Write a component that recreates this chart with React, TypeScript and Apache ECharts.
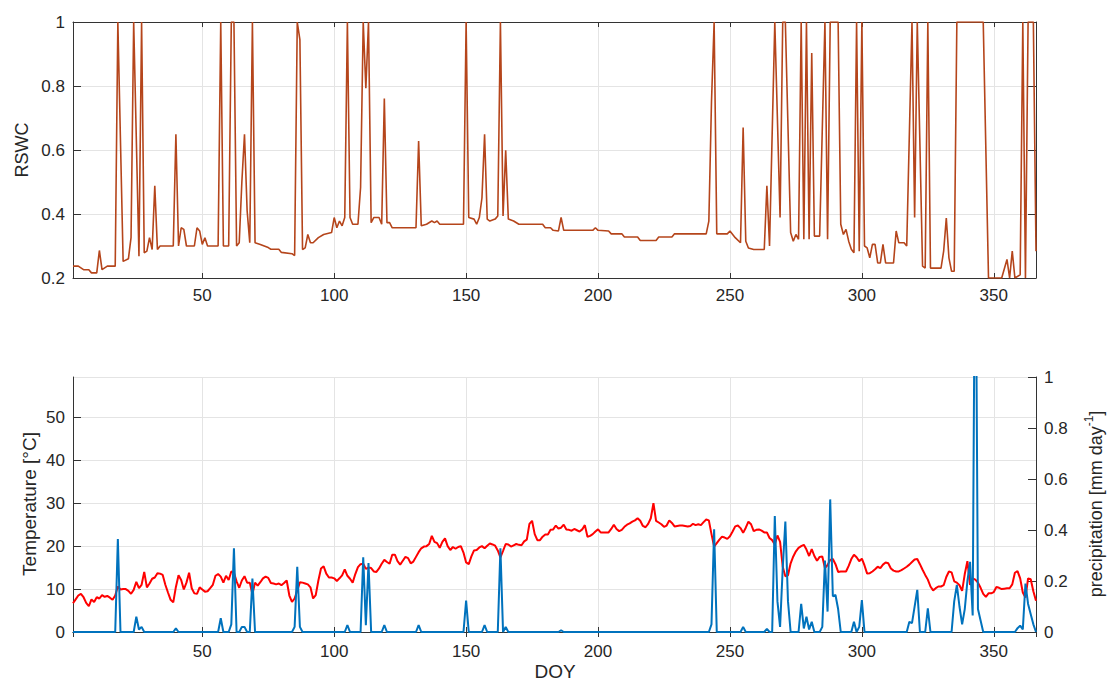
import React, { useEffect, useRef } from 'react';
import * as echarts from 'echarts';

// ---------- data ----------
const DAY_MIN = 1;
const DAY_MAX = 366;

// RSWC vertices: [DOY, relative soil water content]
const rswc: [number, number][] = [
  [1,0.237],[3,0.237],[5,0.226],[7,0.226],[8,0.216],[10,0.216],[11,0.286],[12,0.226],[14,0.237],[17,0.237],
  [18,1],[20,0.252],[22,0.26],[23,0.326],[24,1],[26,0.268],[27,1],[28,0.279],[29,0.284],[30,0.326],
  [31,0.289],[32,0.488],[33,0.289],[34,0.3],[39,0.3],[40,0.649],[41,0.3],[42,0.357],[43,0.352],[44,0.3],
  [47,0.3],[48,0.357],[49,0.347],[50,0.305],[51,0.326],[52,0.3],[56,0.3],[57,1],[58,0.3],[60,0.3],
  [61,1],[62,1],[63,0.3],[64,0.31],[65,0.5],[66,0.649],[67,0.41],[68,0.31],[69,1],[70,0.31],
  [72,0.305],[75,0.295],[76,0.29],[79,0.29],[80,0.28],[84,0.276],[85,0.27],[86,1],[87,0.945],[88,0.289],
  [89,0.294],[90,0.336],[91,0.31],[92,0.31],[94,0.326],[96,0.336],[99,0.342],[100,0.389],[101,0.357],[102,0.378],
  [103,0.363],[104,0.389],[105,1],[106,0.389],[107,0.368],[109,0.368],[110,0.483],[111,1],[112,0.793],[113,1],
  [114,0.373],[115,0.389],[117,0.389],[118,0.368],[119,0.761],[120,0.373],[121,0.373],[122,0.357],[131,0.357],[132,0.628],
  [133,0.363],[135,0.368],[137,0.378],[138,0.373],[139,0.378],[140,0.368],[149,0.368],[150,1],[151,0.389],[153,0.384],
  [154,0.368],[155,0.389],[156,0.45],[157,0.649],[158,0.384],[159,0.378],[161,0.384],[162,0.394],[163,1],[164,0.394],
  [165,0.599],[166,0.384],[168,0.378],[170,0.368],[179,0.368],[180,0.357],[182,0.357],[183,0.349],[185,0.347],[186,0.389],
  [187,0.349],[198,0.349],[199,0.357],[200,0.349],[204,0.347],[205,0.338],[209,0.338],[210,0.328],[215,0.328],[216,0.317],
  [222,0.317],[223,0.328],[228,0.328],[229,0.338],[241,0.338],[242,0.378],[243,0.75],[244,1],[245,0.338],[249,0.338],
  [250,0.347],[252,0.326],[254,0.31],[255,0.67],[256,0.315],[257,0.294],[259,0.289],[263,0.289],[264,0.488],[265,0.3],
  [267,1],[269,0.389],[270,1],[271,1],[273,0.342],[274,0.315],[275,0.336],[276,0.321],[277,1],[278,0.321],
  [279,1],[280,0.321],[281,0.903],[282,0.331],[284,0.331],[286,1],[287,0.321],[288,1],[291,1],[292,0.368],
  [293,0.336],[294,0.352],[295,0.315],[296,0.29],[297,0.279],[298,1],[299,0.284],[300,1],[301,0.3],[302,0.294],
  [303,0.263],[304,0.305],[305,0.305],[306,0.247],[307,0.247],[308,0.305],[309,0.247],[312,0.247],[313,0.347],[314,0.31],
  [316,0.31],[317,0.3],[319,1],[320,0.389],[321,1],[323,0.237],[324,0.231],[325,1],[326,0.231],[330,0.231],
  [331,0.284],[332,0.387],[333,0.263],[334,0.221],[335,0.221],[336,1],[346,1],[348,0.2],[353,0.2],[355,0.258],
  [356,0.2],[357,0.284],[358,0.2],[360,0.21],[361,1],[362,0.2],[363,1],[365,1],[366,0.284],
];

// Daily air temperature [°C], DOY 1..366
const temperature: number[] = [
  6.7,7.6,8.5,8.9,8.1,6.8,6.0,7.6,7.0,8.1, 7.8,8.6,8.2,8.4,8.0,7.5,8.5,10.6,9.9,10.0,
  10.0,9.6,8.9,9.8,11.7,10.2,11.0,14.0,10.4,11.3, 12.4,12.7,13.7,13.6,13.3,11.0,9.2,7.5,6.9,10.5,
  13.2,12.1,9.9,11.5,13.8,10.2,9.0,8.9,10.4,9.9, 9.4,9.5,10.2,11.0,13.1,13.5,12.9,11.5,13.1,12.1,
  14.1,13.8,11.8,10.3,12.0,13.0,11.5,11.5,8.8,11.5, 10.8,11.6,12.5,12.9,12.6,11.4,11.3,11.1,11.3,10.9,
  11.4,12.0,8.5,7.0,7.8,9.7,11.6,11.5,11.3,11.1, 10.4,7.8,8.6,12.0,14.8,15.3,13.6,12.7,12.7,12.5,
  11.9,12.5,13.2,14.6,13.1,12.4,11.5,13.5,15.1,15.8, 15.9,14.7,15.0,14.9,14.1,14.0,14.8,15.9,16.8,16.3,
  15.9,18.0,18.0,16.5,15.7,16.6,17.5,17.2,16.0,16.4, 17.5,18.6,19.5,19.9,20.0,20.5,22.4,21.0,20.7,19.6,
  21.0,21.8,20.0,19.1,19.8,19.4,19.8,20.0,18.5,16.2, 15.8,17.6,19.0,19.1,19.7,20.0,19.5,20.1,20.6,20.4,
  20.1,19.0,17.4,18.9,20.5,20.4,19.9,20.2,20.5,20.3, 20.2,21.1,21.5,25.2,25.9,22.8,21.4,21.4,22.2,22.7,
  22.7,23.8,23.9,24.8,24.1,24.3,25.0,23.9,23.8,23.6, 24.0,23.7,23.4,23.9,24.9,22.2,22.4,22.8,23.4,23.9,
  23.2,23.2,23.2,23.2,24.0,25.0,24.0,23.5,23.8,24.5, 25.0,25.3,25.7,26.0,26.5,25.9,24.7,24.4,25.2,26.5,
  30.0,25.9,25.5,25.1,24.5,24.8,26.0,25.4,24.6,24.7, 24.8,24.8,24.7,24.6,24.7,25.2,24.9,25.1,24.9,25.6,
  26.2,26.0,22.8,19.9,20.7,21.5,22.2,22.0,21.7,22.3, 23.4,24.6,24.8,24.2,23.1,24.3,25.7,25.1,23.5,23.8,
  23.9,23.6,23.2,23.2,21.9,21.4,20.4,22.5,21.0,15.2, 13.0,13.2,16.0,17.6,18.8,19.6,20.0,20.3,19.2,17.7,
  19.3,17.7,16.6,17.5,17.6,14.9,15.6,16.8,17.0,15.8, 14.0,14.1,14.1,14.1,15.4,17.0,18.0,17.4,16.5,17.1,
  15.5,13.6,13.7,14.1,14.6,15.2,14.9,15.7,16.2,16.0, 14.8,14.3,14.1,14.1,14.4,14.8,15.2,15.7,16.3,16.9,
  17.0,15.8,14.5,13.3,12.2,10.6,9.7,10.2,10.6,10.6, 10.9,12.8,14.1,13.9,11.8,11.5,10.9,9.6,13.5,16.5,
  11.0,12.5,12.2,11.5,10.3,8.9,8.2,9.0,9.0,9.3, 10.5,10.3,10.0,10.1,10.2,10.2,11.1,13.8,14.2,12.5,
  9.2,8.0,12.5,12.3,9.5,7.3,
];

// Precipitation vertices: [DOY, mm/day]
const precipitation: [number, number][] = [
  [1,0],[17,0],[18,0.365],[19,0],[24,0],[25,0.06],[26,0.01],[27,0.02],[28,0],[39,0],[40,0.014],[41,0],
  [56,0],[57,0.054],[58,0],[60,0],[61,0.03],[62,0.328],[63,0],[64,0],[65,0.02],[66,0.02],[67,0],[68,0],[69,0.21],[70,0],
  [84,0],[85,0.02],[86,0.256],[87,0.02],[88,0],[104,0],[105,0.027],[106,0],[110,0],[111,0.293],[112,0.027],[113,0.27],[114,0],
  [118,0],[119,0.027],[120,0],[131,0],[132,0.027],[133,0],[149,0],[150,0.123],[151,0],[156,0],[157,0.027],[158,0],
  [162,0],[163,0.328],[164,0],[165,0.02],[166,0],[185,0],[186,0.007],[187,0],[242,0],[243,0.03],[244,0.403],[245,0],
  [254,0],[255,0.02],[256,0],[263,0],[264,0.012],[265,0],[266,0],[267,0.455],[268,0.12],[269,0.02],[270,0.25],[271,0.433],
  [272,0.12],[273,0],[276,0],[277,0.11],[278,0.014],[279,0.06],[280,0.01],[281,0.04],[282,0],[284,0],[285,0.02],[286,0.28],
  [287,0.08],[288,0.52],[289,0.14],[290,0.145],[291,0.09],[292,0],[296,0],[297,0.04],[298,0],[299,0.02],[300,0.125],[301,0],
  [317,0],[318,0.04],[319,0.035],[321,0.165],[322,0],[324,0],[325,0.093],[326,0],[334,0],[335,0.12],[336,0.185],[337,0.1],
  [338,0.03],[339,0.09],[340,0.2],[341,0.275],[342,0.065],[343,1.8],[344,0.09],[345,0.045],[346,0],[358,0],[359,0.015],
  [360,0.025],[361,0.01],[362,0.19],[363,0.11],[364,0.07],[365,0.03],[366,0],
];

const RSWC_RANGE = [0.2, 1];
const TEMP_RANGE = [0, 59.4];
const PRECIP_RANGE = [0, 1];

// ---------- styling ----------
const FONT = "'Liberation Sans', Arial, Helvetica, sans-serif";
const AXIS_COLOR = '#333333';
const TEXT_COLOR = '#262626';
const GRID_COLOR = '#e4e4e4';

export default function App() {
  const ref = useRef<HTMLDivElement>(null);

  useEffect(() => {
    if (!ref.current) return;
    const chart = echarts.init(ref.current, null, { renderer: 'svg' });

    const tempData = temperature.map((v, i) => [DAY_MIN + i, v]);

    const lineAxis = { show: true, lineStyle: { color: AXIS_COLOR, width: 1 } };
    const labelStyle = { color: TEXT_COLOR, fontSize: 17, fontFamily: FONT };

    const xMain = (gridIndex: number, margin: number) => ({
      type: 'value',
      gridIndex,
      position: 'bottom',
      min: DAY_MIN,
      max: DAY_MAX,
      splitNumber: 7,
      axisLine: lineAxis,
      axisTick: { show: true, inside: true, length: 5, lineStyle: { color: AXIS_COLOR } },
      axisLabel: { ...labelStyle, margin, showMinLabel: false, showMaxLabel: false },
      splitLine: { show: true, lineStyle: { color: GRID_COLOR, width: 1 } },
    });
    const xMirror = (gridIndex: number) => ({
      type: 'value',
      gridIndex,
      position: 'top',
      min: DAY_MIN,
      max: DAY_MAX,
      splitNumber: 7,
      axisLine: lineAxis,
      axisTick: { show: true, inside: true, length: 5, lineStyle: { color: AXIS_COLOR } },
      axisLabel: { show: false },
      splitLine: { show: false },
    });

    const option: any = {
      animation: false,
      backgroundColor: '#ffffff',
      textStyle: { fontFamily: FONT },
      grid: [
        { left: 73, top: 22, width: 963, height: 256, containLabel: false },
        { left: 73, top: 377, width: 963, height: 255, containLabel: false },
      ],
      xAxis: [xMain(0, 9), xMirror(0), xMain(1, 11), xMirror(1)],
      yAxis: [
        {
          type: 'value', gridIndex: 0, position: 'left',
          min: RSWC_RANGE[0], max: RSWC_RANGE[1], interval: 0.2,
          axisLine: lineAxis,
          axisTick: { show: true, inside: true, length: 8, lineStyle: { color: AXIS_COLOR } },
          axisLabel: { ...labelStyle, margin: 8 },
          splitLine: { show: true, lineStyle: { color: GRID_COLOR, width: 1 } },
        },
        {
          type: 'value', gridIndex: 0, position: 'right',
          min: RSWC_RANGE[0], max: RSWC_RANGE[1], interval: 0.2,
          axisLine: lineAxis,
          axisTick: { show: true, inside: true, length: 8, lineStyle: { color: AXIS_COLOR } },
          axisLabel: { show: false },
          splitLine: { show: false },
        },
        {
          type: 'value', gridIndex: 1, position: 'left',
          min: TEMP_RANGE[0], max: TEMP_RANGE[1], interval: 10,
          axisLine: lineAxis,
          axisTick: { show: true, inside: true, length: 8, lineStyle: { color: AXIS_COLOR } },
          axisLabel: { ...labelStyle, margin: 8, showMaxLabel: false },
          splitLine: { show: true, lineStyle: { color: GRID_COLOR, width: 1 } },
        },
        {
          type: 'value', gridIndex: 1, position: 'right',
          min: PRECIP_RANGE[0], max: PRECIP_RANGE[1], interval: 0.2,
          axisLine: lineAxis,
          axisTick: { show: true, inside: true, length: 8, lineStyle: { color: AXIS_COLOR } },
          axisLabel: { ...labelStyle, margin: 8 },
          splitLine: { show: false },
        },
      ],
      series: [
        {
          name: 'RSWC', type: 'line', xAxisIndex: 0, yAxisIndex: 0,
          data: rswc, showSymbol: false, symbol: 'none', clip: true,
          lineStyle: { color: '#b5451b', width: 1.6 },
        },
        {
          name: 'Temperature', type: 'line', xAxisIndex: 2, yAxisIndex: 2,
          data: tempData, showSymbol: false, symbol: 'none', clip: true,
          lineStyle: { color: '#ff0000', width: 2 },
        },
        {
          name: 'Precipitation', type: 'line', xAxisIndex: 2, yAxisIndex: 3,
          data: precipitation, showSymbol: false, symbol: 'none', clip: true,
          lineStyle: { color: '#0072bd', width: 2 },
        },
      ],
      graphic: [
        {
          type: 'text', x: 22, y: 150, rotation: Math.PI / 2,
          style: { text: 'RSWC', fontSize: 18, fontFamily: FONT, fill: TEXT_COLOR, align: 'center', verticalAlign: 'middle' },
        },
        {
          type: 'text', x: 29, y: 504, rotation: Math.PI / 2,
          style: { text: 'Temperature [°C]', fontSize: 19, fontFamily: FONT, fill: TEXT_COLOR, align: 'center', verticalAlign: 'middle' },
        },
        {
          type: 'text', x: 1094, y: 504, rotation: Math.PI / 2,
          style: {
            text: '{a|precipitation [mm day}{s|-1}{a|]}',
            fontFamily: FONT, fill: TEXT_COLOR, align: 'center', verticalAlign: 'middle',
            rich: {
              a: { fontSize: 18, fontFamily: FONT, fill: TEXT_COLOR, lineHeight: 22, verticalAlign: 'bottom' },
              s: { fontSize: 12, fontFamily: FONT, fill: TEXT_COLOR, lineHeight: 22, verticalAlign: 'top' },
            },
          },
        },
        {
          type: 'text', x: 555, y: 671,
          style: { text: 'DOY', fontSize: 19, fontFamily: FONT, fill: TEXT_COLOR, align: 'center', verticalAlign: 'middle' },
        },
      ],
    };

    chart.setOption(option);
    return () => chart.dispose();
  }, []);

  return (
    <div
      ref={ref}
      style={{ position: 'fixed', left: 0, top: 0, width: 1107, height: 684, background: '#ffffff' }}
    />
  );
}
